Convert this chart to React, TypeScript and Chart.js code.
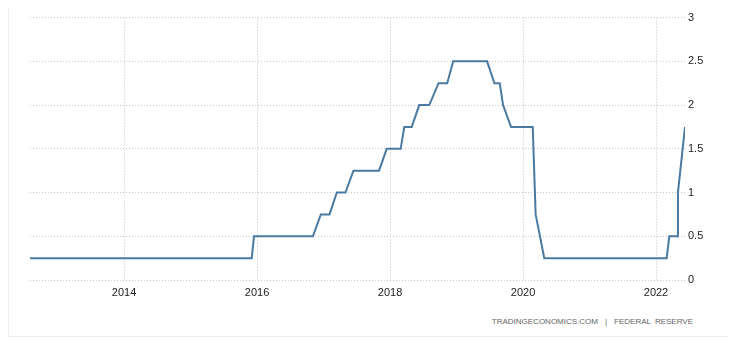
import React, { useEffect, useRef } from "react";
import { Chart, registerables } from "chart.js";

Chart.register(...registerables);

// Decimal-year dates of each vertex and the matching rate (%)
const dates: number[] = [
  2012.586, 2015.92, 2015.955, 2016.84, 2016.96, 2017.09, 2017.2, 2017.33,
  2017.45, 2017.835, 2017.95, 2018.16, 2018.215, 2018.326, 2018.44, 2018.59,
  2018.73, 2018.86, 2018.95, 2019.46, 2019.57, 2019.65, 2019.7, 2019.82,
  2020.146, 2020.19, 2020.32, 2022.16, 2022.2, 2022.32, 2022.33, 2022.436,
];
const rates: number[] = [
  0.25, 0.25, 0.5, 0.5, 0.75, 0.75, 1.0, 1.0,
  1.25, 1.25, 1.5, 1.5, 1.75, 1.75, 2.0, 2.0,
  2.25, 2.25, 2.5, 2.5, 2.25, 2.25, 2.0, 1.75,
  1.75, 0.75, 0.25, 0.25, 0.5, 0.5, 1.0, 1.75,
];
const yearTicks: number[] = [2014, 2016, 2018, 2020, 2022];
const yMin = 0;
const yMax = 3;
const yStep = 0.5;
const sourceLeft = "TRADINGECONOMICS.COM";
const sourceRight = "FEDERAL RESERVE";

const FONT = "'Liberation Sans', Arial, sans-serif";

export default function App() {
  const canvasRef = useRef<HTMLCanvasElement | null>(null);

  useEffect(() => {
    if (!canvasRef.current) return;
    const points = dates.map((d, i) => ({ x: d, y: rates[i] }));
    const chart = new Chart(canvasRef.current, {
      type: "line",
      data: {
        datasets: [
          {
            data: points,
            borderColor: "#4a79a1",
            borderWidth: 2,
            pointRadius: 0,
            tension: 0,
            fill: false,
          },
        ],
      },
      options: {
        responsive: false,
        animation: false,
        layout: { padding: { left: 21, top: 9, right: 0, bottom: 0 } },
        plugins: { legend: { display: false }, tooltip: { enabled: false } },
        scales: {
          x: {
            type: "linear",
            min: dates[0],
            max: dates[dates.length - 1],
            afterBuildTicks: (scale: any) => {
              scale.ticks = yearTicks.map((v) => ({ value: v }));
            },
            afterFit: (scale: any) => {
              scale.height = 30;
            },
            grid: { color: "#c4c4c4", drawTicks: false, lineWidth: 1 },
            border: { display: false, dash: [1, 2] },
            ticks: {
              padding: 6,
              color: "#222",
              font: { family: FONT, size: 11 },
              maxRotation: 0,
              autoSkip: false,
              callback: (v: any) => String(v),
            },
          },
          y: {
            position: "right",
            min: yMin,
            max: yMax,
            afterFit: (scale: any) => {
              scale.width = 44;
            },
            grid: { color: "#c4c4c4", drawTicks: false, lineWidth: 1 },
            border: { display: false, dash: [1, 2] },
            ticks: {
              stepSize: yStep,
              padding: 3,
              color: "#222",
              font: { family: FONT, size: 11 },
              callback: (v: any) => String(Number(v)),
            },
          },
        },
      },
    });
    return () => chart.destroy();
  }, []);

  return (
    <div
      style={{
        position: "relative",
        width: 720,
        height: 328,
        borderLeft: "1px solid #eee",
        borderBottom: "1px solid #eee",
      }}
    >
      <canvas
        ref={canvasRef}
        width={720}
        height={302}
        style={{ position: "absolute", left: 0, top: 0, width: 720, height: 302 }}
      />
      <div
        style={{
          position: "absolute",
          top: 309,
          right: 36,
          fontFamily: FONT,
          fontSize: "8px",
          lineHeight: "10px",
          color: "#666",
          whiteSpace: "nowrap",
        }}
      >
        <span>{sourceLeft}</span>
        <span style={{ margin: "0 7px" }}>|</span>
        <span style={{ wordSpacing: "2px" }}>{sourceRight}</span>
      </div>
    </div>
  );
}
